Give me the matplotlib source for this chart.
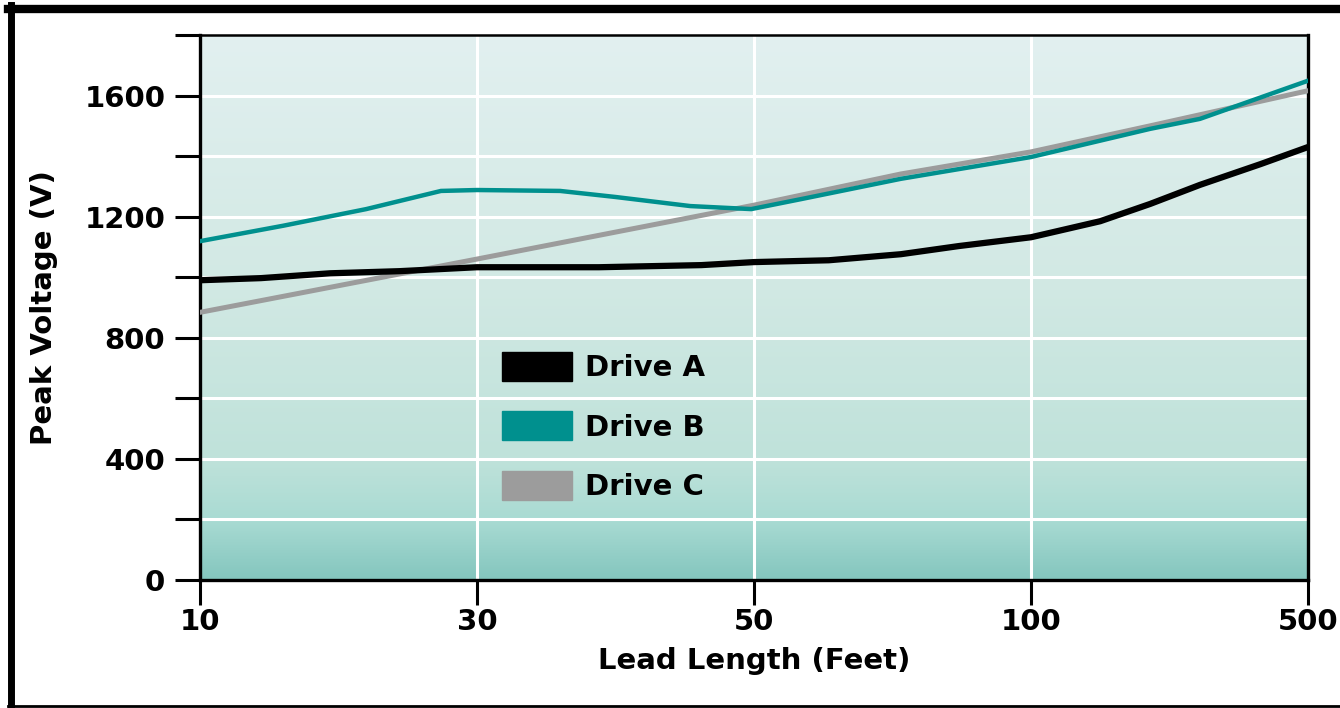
import numpy as np
import matplotlib
matplotlib.use("Agg")
import matplotlib.pyplot as plt
from matplotlib.colors import LinearSegmentedColormap
from matplotlib.patches import Patch
from matplotlib.lines import Line2D

# categorical x axis: lead lengths are equally spaced
x_labels = ["10", "30", "50", "100", "500"]

# curves (x in category units, y in volts)
a_x = [0, 0.22, 0.47, 0.72, 1.0, 1.44, 1.81, 2.0, 2.27, 2.53, 2.74, 3.0, 3.25, 3.43, 3.61, 3.83, 4.0]
a_y = [990, 997, 1013, 1020, 1033, 1033, 1040, 1050, 1056, 1076, 1103, 1132, 1185, 1242, 1305, 1374, 1430]

b_x = [0, 0.3, 0.6, 0.87, 1.0, 1.3, 1.5, 1.77, 1.99, 2.17, 2.53, 3.0, 3.43, 3.61, 4.0]
b_y = [1119, 1170, 1225, 1285, 1288, 1285, 1265, 1235, 1225, 1258, 1325, 1397, 1490, 1523, 1649]

c_x = [0, 1.0, 2.0, 2.53, 3.0, 3.43, 4.0]
c_y = [884, 1060, 1238, 1341, 1414, 1500, 1616]

C_A = "#000000"
C_B = "#00908e"
C_C = "#9c9c9c"

plt.rcParams["font.family"] = ["DejaVu Sans"]
plt.rcParams["font.weight"] = "bold"

fig = plt.figure(figsize=(13.4, 7.08), dpi=100)
ax = fig.add_axes([200 / 1340, 1 - 580 / 708, 1108 / 1340, 545 / 708])

# background gradient
grad = LinearSegmentedColormap.from_list(
    "bg", [(0, "#84c6be"), (0.11, "#a9dbd3"), (0.22, "#bfe2da"),
           (0.55, "#d2e9e4"), (1.0, "#e2f0f0")])
ax.imshow(np.linspace(0, 1, 256).reshape(-1, 1), cmap=grad, aspect="auto",
          extent=[0, 4, 0, 1800], origin="lower", zorder=0)

for v in range(200, 1800, 200):
    ax.axhline(v, color="white", lw=2.2, zorder=1)
for v in [1, 2, 3]:
    ax.axvline(v, color="white", lw=2.2, zorder=1)

ax.plot(c_x, c_y, color=C_C, lw=3.6, zorder=3)
ax.plot(b_x, b_y, color=C_B, lw=3.2, zorder=4)
ax.plot(a_x, a_y, color=C_A, lw=4.5, zorder=5)

ax.set_xlim(0, 4)
ax.set_ylim(0, 1800)
ax.set_xticks(range(len(x_labels)))
ax.set_xticklabels(x_labels)
ax.set_yticks(range(0, 1801, 200))
ax.set_yticklabels([str(v) if v % 400 == 0 and v < 1800 else "" for v in range(0, 1801, 200)])
ax.tick_params(axis="both", direction="out", length=18, width=2.2, labelsize=21, colors="black")
ax.tick_params(axis="y", pad=7)
ax.tick_params(axis="x", pad=2)
for s in ["left", "bottom", "right"]:
    ax.spines[s].set_linewidth(2.4)
ax.spines["top"].set_linewidth(1.8)

ax.set_xlabel("Lead Length (Feet)", fontsize=21, fontweight="bold", labelpad=8)
ax.set_ylabel("Peak Voltage (V)", fontsize=21, fontweight="bold", labelpad=19)

ax.legend(handles=[Patch(color=C_A, label="Drive A"),
                   Patch(color=C_B, label="Drive B"),
                   Patch(color=C_C, label="Drive C")],
          loc="upper left", bbox_to_anchor=(0.262, 0.44), frameon=False,
          fontsize=21, handlelength=2.4, handleheight=1.15, labelspacing=1.0,
          handletextpad=0.45, borderaxespad=0)

# outer frame
fig.add_artist(Line2D([8 / 1340, 1], [1 - 9 / 708, 1 - 9 / 708], color="black", lw=6))
fig.add_artist(Line2D([11 / 1340, 11 / 1340], [0, 1 - 5 / 708], color="black", lw=5))
fig.add_artist(Line2D([8 / 1340, 1], [2 / 708, 2 / 708], color="black", lw=2))

fig.savefig("out.png", dpi=100)
